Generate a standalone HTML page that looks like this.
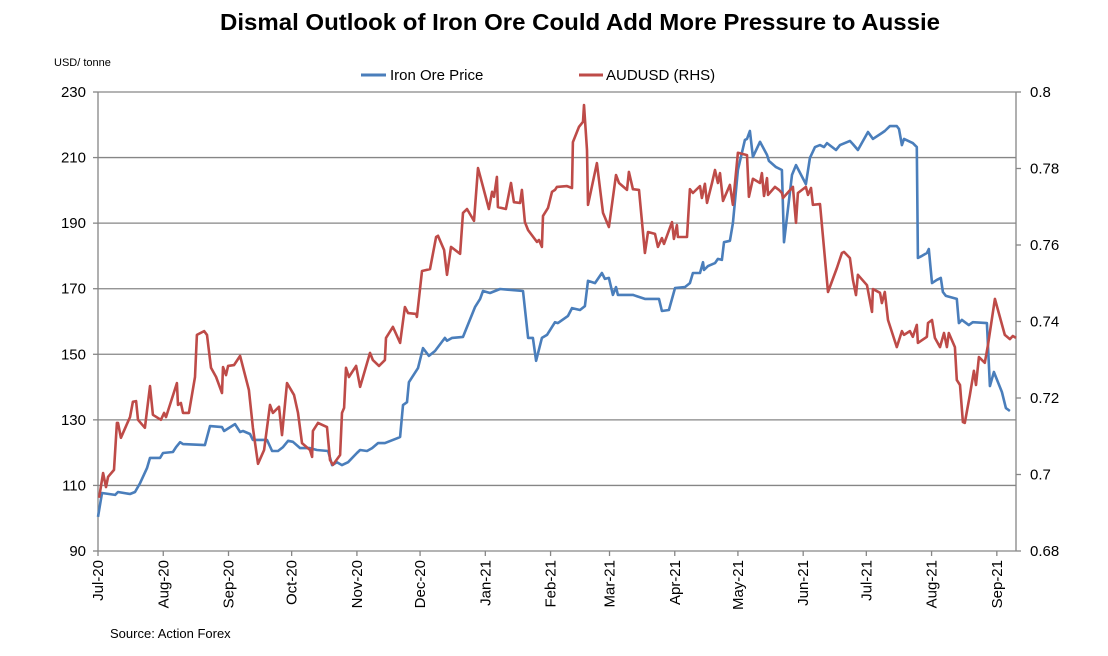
<!DOCTYPE html>
<html><head><meta charset="utf-8"><style>
html,body{margin:0;padding:0;background:#fff;width:1108px;height:656px;overflow:hidden}
svg{display:block;font-family:"Liberation Sans",Arial,sans-serif}
</style></head><body>
<svg id="chart" width="1108" height="656" viewBox="0 0 1108 656" xmlns="http://www.w3.org/2000/svg">
<text x="220" y="30" font-size="23" font-weight="bold" fill="#000" textLength="720" lengthAdjust="spacingAndGlyphs">Dismal Outlook of Iron Ore Could Add More Pressure to Aussie</text>
<text x="54" y="66" font-size="11" fill="#000">USD/ tonne</text>
<g>
<line x1="361" y1="75" x2="386" y2="75" stroke="#4a7ebb" stroke-width="3"/>
<text x="390" y="80" font-size="15" fill="#000">Iron Ore Price</text>
<line x1="579" y1="75" x2="603" y2="75" stroke="#be4b48" stroke-width="3"/>
<text x="606" y="80" font-size="15" fill="#000">AUDUSD (RHS)</text>
</g>
<g id="grid"></g><g id="axes"></g><g id="series"></g>
<text x="110" y="638" font-size="13" fill="#000">Source: Action Forex</text>
</svg>
<script>
// Data: day offsets from 1 Jul 2020
const leftTicks=[90,110,130,150,170,190,210,230];
const rightTicks=[0.68,0.70,0.72,0.74,0.76,0.78,0.8];
const rightTickLabels=["0.68","0.7","0.72","0.74","0.76","0.78","0.8"];
const monthLabels=["Jul-20","Aug-20","Sep-20","Oct-20","Nov-20","Dec-20","Jan-21","Feb-21","Mar-21","Apr-21","May-21","Jun-21","Jul-21","Aug-21","Sep-21"];
const monthDays=[0,31,62,92,123,153,184,215,243,274,304,335,365,396,427];
const ironDays=[0,1.9,8.1,9.5,15.2,17.6,20,23.3,24.7,29.5,30.9,35.6,37.1,39,40.4,50.8,53.2,58.9,59.9,65.1,67.5,68.9,72.2,73.6,80.3,82.7,85.5,87.9,90.3,92.6,96,100.7,104,109.3,111.2,113.5,115.9,118.8,123,124.5,127.8,130.2,133,136.3,142.5,143.5,144.9,146.8,147.7,152,154.4,157.2,160.1,164.8,165.8,168.2,173.4,179.1,181.5,182.9,186.2,191,201.9,204.3,206.6,208.1,210.9,213.3,217.1,218.5,223.3,225.2,229,231.3,232.8,236.1,239.4,240.8,242.7,244.6,246.1,247,254.1,259.8,266.5,267.9,271.2,274.1,278.8,281.2,282.6,286,287.4,287.9,289.8,293.1,294.5,296.4,297.4,300.2,301.6,304,307.3,308.3,309.7,311.1,314.5,317.8,318.7,322.1,324.9,325.9,329.7,331.6,336.3,338.2,340.6,343,344.9,346.3,350.6,352.5,357.2,358.6,361,365.8,368.1,372.4,373.8,376.2,379.5,380.5,381.9,382.9,387.1,389,389.5,391.4,393.8,394.7,396.2,398.5,400.4,401.4,402.8,408,409,410.4,413.7,415.6,422.3,423.7,425.6,429.4,431.3,433.2];
const ironValues=[100.4,107.7,107.1,108,107.4,108,110.7,115.3,118.4,118.4,119.9,120.2,121.7,123.2,122.6,122.3,128.1,127.8,126.6,128.7,126.3,126.6,125.7,123.9,123.9,120.5,120.5,121.7,123.6,123.3,121.4,121.4,120.8,120.5,116.2,117.1,116.2,117.1,119.9,120.8,120.5,121.4,122.9,122.9,124.5,124.8,134.5,135.4,141.5,145.8,151.9,149.5,151,155,154.1,155,155.3,164.4,166.9,169.3,168.7,169.9,169.3,155,155,148,155,155.9,159.8,159.5,161.7,164.1,163.5,164.7,172.4,171.7,174.8,173,173.3,168.1,170.5,168.1,168.1,166.9,166.9,163.2,163.5,170.2,170.5,171.7,174.8,174.8,178.1,175.7,176.9,177.8,179.1,178.8,184.2,184.6,190,206.2,215.4,215.7,218.1,210.2,214.8,210.8,209,207.1,206.2,184.2,204.7,207.7,201.9,209.9,213.2,213.8,213.2,214.4,212.3,213.8,215.1,214.1,212.3,217.8,215.7,217.5,218.1,219.6,219.6,218.7,213.8,215.7,214.4,213.2,179.4,180,180.9,182.1,171.7,172.7,173.3,169,167.8,166.9,159.5,160.5,158.9,159.8,159.5,140.3,144.6,138.5,133.6,132.7];
const audDays=[0.5,2.4,3.8,4.8,7.6,9,9.5,10.9,15.2,16.6,18.1,19,22.3,24.7,26.1,29.9,31.4,32.3,37.5,38,39.4,40.4,43.2,46.1,47,50.4,51.8,53.7,56.1,58.9,59.4,60.8,61.8,64.6,67.5,71.7,73.6,76,78.9,81.7,83.1,86,87.4,89.8,93.1,95,96.9,100.7,101.7,102.1,104.5,108.8,110.2,111.6,115,115.9,116.9,117.8,119.2,122.6,124.5,125.9,129.2,130.6,133.5,136.3,136.8,140.1,143.5,145.8,147.3,151.1,151.5,153.9,157.7,160.6,161.5,164.4,165.8,167.7,172,173.4,175.3,178.6,180.5,182.4,185.7,187.2,188.1,189.5,190,193.8,196.2,197.6,200.5,201.4,202.8,204.3,208.5,209.5,210.9,211.4,213.8,215.7,217.1,218,222.8,225.2,225.6,228.5,230.4,230.9,232.3,232.8,237,239.9,242.7,246.1,247.5,251.3,252.2,254.1,257,259.8,261.3,264.6,266,267.9,268.9,272.7,273.6,275,275.5,279.8,281.2,282.6,286,286.9,288.3,289.3,291.7,293.1,294.5,295.5,296.9,300.2,301.6,304,308.3,309.2,311.1,314.5,315.4,316.4,317.8,318.3,321.6,323.5,324.9,325.4,330.1,331.6,332.5,336.3,337.3,338.7,339.6,343,346.8,351,353.4,354.4,357.2,358.6,360.1,361,365.3,367.7,368.1,371.5,372.4,373.8,375.3,379.5,381.9,382.9,385.7,387.1,389,389.5,393.8,394.3,396.2,397.6,400,401.9,403.3,404.2,407.1,408,409.5,410.9,411.8,414.2,416.1,417.1,418.5,421.3,422.8,426.1,430.8,433.2,434.6,436.1];
const audValues=[0.6939,0.7004,0.6967,0.6994,0.7012,0.7135,0.7135,0.7096,0.715,0.719,0.7192,0.7143,0.7122,0.7231,0.7156,0.7143,0.7161,0.715,0.7239,0.7182,0.7187,0.7161,0.7161,0.7255,0.7365,0.7375,0.7365,0.7279,0.7255,0.7213,0.7281,0.726,0.7284,0.7286,0.731,0.7221,0.7122,0.7028,0.7064,0.7182,0.7161,0.7177,0.7103,0.7239,0.7208,0.7161,0.7082,0.7064,0.7046,0.7114,0.7135,0.7124,0.7038,0.7025,0.7051,0.7161,0.7174,0.7279,0.7255,0.7284,0.7229,0.7255,0.7318,0.7299,0.7284,0.7299,0.7357,0.7386,0.7344,0.7438,0.7422,0.742,0.7412,0.7532,0.7537,0.7621,0.7624,0.7587,0.7522,0.7595,0.7577,0.7684,0.7694,0.7663,0.7801,0.7762,0.7694,0.7739,0.7726,0.7778,0.7699,0.7694,0.7762,0.7712,0.771,0.7744,0.766,0.7639,0.7608,0.7613,0.7595,0.7676,0.7697,0.7739,0.7744,0.7752,0.7754,0.7749,0.7869,0.7909,0.7922,0.7966,0.7848,0.7705,0.7814,0.7684,0.7647,0.7783,0.7762,0.7744,0.7791,0.7746,0.7744,0.7579,0.7634,0.7629,0.7595,0.7618,0.7603,0.766,0.7616,0.7652,0.7621,0.7621,0.7746,0.7736,0.7754,0.7723,0.776,0.771,0.7762,0.7796,0.7762,0.7788,0.7715,0.7757,0.7705,0.7841,0.7835,0.7726,0.7773,0.7762,0.7788,0.7728,0.7775,0.7731,0.7752,0.7744,0.7736,0.7723,0.7752,0.7658,0.7736,0.7752,0.7731,0.7749,0.7705,0.7707,0.7477,0.754,0.7579,0.7582,0.7566,0.7509,0.7469,0.7522,0.7495,0.7425,0.7485,0.7475,0.7448,0.7477,0.7404,0.7333,0.7375,0.7365,0.7375,0.736,0.7391,0.7344,0.736,0.7396,0.7404,0.7357,0.7333,0.737,0.7333,0.737,0.7333,0.7247,0.7234,0.7137,0.7135,0.7208,0.7271,0.7234,0.7307,0.7292,0.7339,0.7459,0.7365,0.7354,0.7362,0.7357];

const NS="http://www.w3.org/2000/svg";
const X0=98,X1=1016,Y0=92,Y1=551,PXD=2.105;
const xScale=d=>X0+d*PXD;
const yL=v=>Y1-(v-90)/(230-90)*(Y1-Y0);
const yR=v=>Y1-(v-0.68)/(0.8-0.68)*(Y1-Y0);
function mk(tag,attrs,parent){const e=document.createElementNS(NS,tag);for(const k in attrs)e.setAttribute(k,attrs[k]);parent.appendChild(e);return e;}
const grid=document.getElementById('grid'),axes=document.getElementById('axes'),series=document.getElementById('series');

leftTicks.forEach(v=>{
  const y=yL(v);
  if(v>90){const g=mk('line',{x1:X0,y1:y,x2:X1,y2:y,stroke:'#868686','stroke-width':1.3},grid);
  
  }
  const t=mk('line',{x1:X0-5,y1:y,x2:X0,y2:y,stroke:'#868686','stroke-width':1.3},axes);
  
  
  const l=mk('text',{x:86,y:y+5,'text-anchor':'end','font-size':15,fill:'#000'},axes);
  l.textContent=v;
  
  
});
rightTicks.forEach((v,i)=>{
  const y=yR(v);
  const t=mk('line',{x1:X1,y1:y,x2:X1+5,y2:y,stroke:'#868686','stroke-width':1.3},axes);
  
  
  const l=mk('text',{x:1030,y:y+5,'font-size':15,fill:'#000'},axes);
  l.textContent=rightTickLabels[i];
  
  
});
[['left-axis',X0,Y0,X0,Y1],['right-axis',X1,Y0,X1,Y1],['x-axis',X0,Y1,X1,Y1]].forEach(a=>{
  const e=mk('line',{x1:a[1],y1:a[2],x2:a[3],y2:a[4],stroke:'#868686','stroke-width':1.3},axes);
  
  
});
monthLabels.forEach((m,i)=>{
  const x=xScale(monthDays[i]);
  const t=mk('line',{x1:x,y1:Y1,x2:x,y2:Y1+5,stroke:'#868686','stroke-width':1.3},axes);
  
  
  const l=mk('text',{x:0,y:0,'text-anchor':'end','font-size':15,fill:'#000',transform:`translate(${x+5},560) rotate(-90)`},axes);
  l.textContent=m;
  
  
});
function line(days,vals,ys,color,name){
  const d=days.map((dd,i)=>(i?'L':'M')+xScale(dd).toFixed(1)+','+ys(vals[i]).toFixed(1)).join('');
  const p=mk('path',{d:d,fill:'none',stroke:color,'stroke-width':2.6,'stroke-linejoin':'round'},series);
  
  
}
line(ironDays,ironValues,yL,'#4a7ebb','iron-ore-price-line');
line(audDays,audValues,yR,'#be4b48','audusd-line');
</script>
</body></html>
